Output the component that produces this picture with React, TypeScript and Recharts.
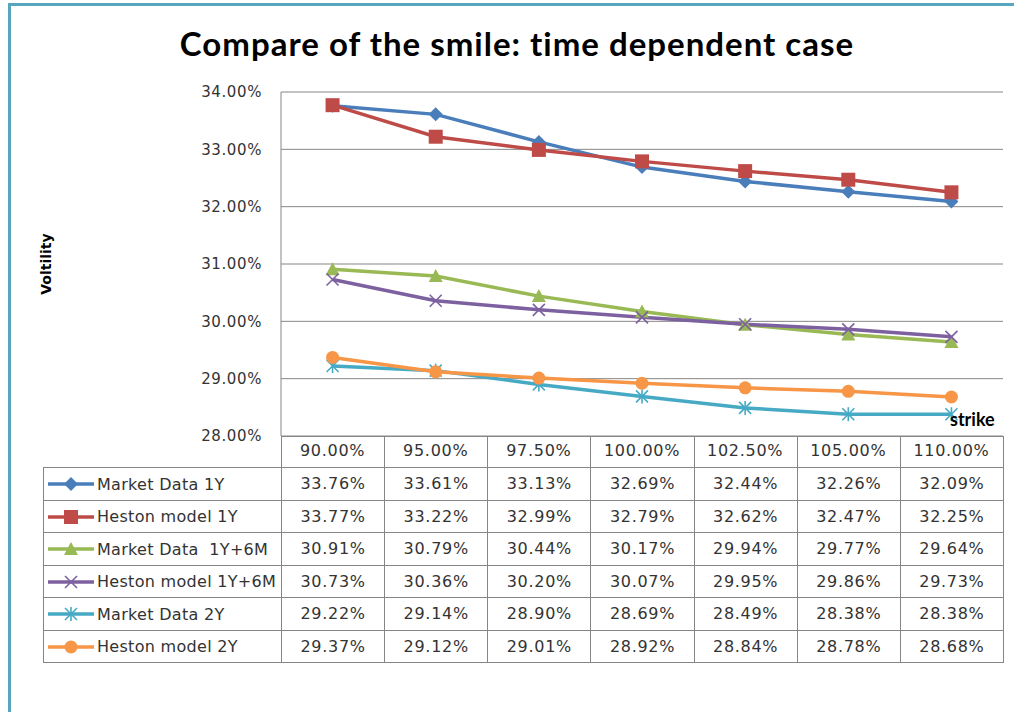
import React from 'react'
import { LineChart, Line, XAxis, YAxis, CartesianGrid } from 'recharts'

// strikes (x categories) and implied vols in %
const strikes = ['90.00%', '95.00%', '97.50%', '100.00%', '102.50%', '105.00%', '110.00%']
const marketData1Y = [33.76, 33.61, 33.13, 32.69, 32.44, 32.26, 32.09]
const hestonModel1Y = [33.77, 33.22, 32.99, 32.79, 32.62, 32.47, 32.25]
const marketData18M = [30.91, 30.79, 30.44, 30.17, 29.94, 29.77, 29.64]
const hestonModel18M = [30.73, 30.36, 30.2, 30.07, 29.95, 29.86, 29.73]
const marketData2Y = [29.22, 29.14, 28.9, 28.69, 28.49, 28.38, 28.38]
const hestonModel2Y = [29.37, 29.12, 29.01, 28.92, 28.84, 28.78, 28.68]
const yTicks = [28, 29, 30, 31, 32, 33, 34]

type Shape = 'diamond' | 'square' | 'triangle' | 'x' | 'star' | 'circle'

const series: { key: string; name: string; values: number[]; color: string; shape: Shape }[] = [
    { key: 'm1', name: 'Market Data 1Y', values: marketData1Y, color: '#4a7ebb', shape: 'diamond' },
    { key: 'h1', name: 'Heston model 1Y', values: hestonModel1Y, color: '#be4b48', shape: 'square' },
    { key: 'm18', name: 'Market Data  1Y+6M', values: marketData18M, color: '#98b954', shape: 'triangle' },
    { key: 'h18', name: 'Heston model 1Y+6M', values: hestonModel18M, color: '#7d60a0', shape: 'x' },
    { key: 'm2', name: 'Market Data 2Y', values: marketData2Y, color: '#46aac5', shape: 'star' },
    { key: 'h2', name: 'Heston model 2Y', values: hestonModel2Y, color: '#f79646', shape: 'circle' },
]

const chartData = strikes.map((s, i) => {
    const row: Record<string, string | number> = { strike: s }
    series.forEach(sr => { row[sr.key] = sr.values[i] })
    return row
})

const pct = (v: number) => `${v.toFixed(2)}%`
const FONT = '"DejaVu Sans", Verdana, sans-serif'
const GRID = '#868686'
const BAND = 722 / strikes.length // width of one category column in px

const Marker = ({ cx, cy, shape, color }: { cx: number; cy: number; shape: Shape; color: string }) => {
    switch (shape) {
        case 'diamond':
            return <polygon points={`${cx},${cy - 7} ${cx + 7},${cy} ${cx},${cy + 7} ${cx - 7},${cy}`} fill={color} />
        case 'square':
            return <rect x={cx - 7} y={cy - 7} width={14} height={14} fill={color} />
        case 'triangle':
            return <polygon points={`${cx},${cy - 7} ${cx + 7},${cy + 6} ${cx - 7},${cy + 6}`} fill={color} />
        case 'x':
            return (
                <g stroke={color} strokeWidth={1.6}>
                    <line x1={cx - 6} y1={cy - 6} x2={cx + 6} y2={cy + 6} />
                    <line x1={cx - 6} y1={cy + 6} x2={cx + 6} y2={cy - 6} />
                </g>
            )
        case 'star':
            return (
                <g stroke={color} strokeWidth={1.6}>
                    <line x1={cx - 6} y1={cy - 6} x2={cx + 6} y2={cy + 6} />
                    <line x1={cx - 6} y1={cy + 6} x2={cx + 6} y2={cy - 6} />
                    <line x1={cx} y1={cy - 7} x2={cx} y2={cy + 7} />
                </g>
            )
        default:
            return <circle cx={cx} cy={cy} r={6.5} fill={color} />
    }
}

const makeDot = (shape: Shape, color: string) => (props: any) => (
    <Marker key={`${shape}-${props.index}`} cx={props.cx} cy={props.cy} shape={shape} color={color} />
)

const LegendKey = ({ shape, color }: { shape: Shape; color: string }) => (
    <svg width={50} height={16} style={{ verticalAlign: 'middle', marginRight: 1 }}>
        <line x1={2} y1={8} x2={48} y2={8} stroke={color} strokeWidth={3.5} />
        <Marker cx={25} cy={8} shape={shape} color={color} />
    </svg>
)

const cellBorder = `1px solid ${GRID}`

export default function App() {
    return (
        <div style={{ position: 'absolute', left: 0, top: 0, width: 1014, height: 712, background: '#fff', overflow: 'hidden', fontFamily: FONT }}>
            {/* frame of the chart object, only left and top edges are visible */}
            <div style={{ position: 'absolute', left: 8, top: 3, width: 1100, height: 800, borderLeft: '3px solid #58a6bd', borderTop: '3px solid #58a6bd' }} />

            <div style={{ position: 'absolute', left: 0, width: 1034, top: 23, textAlign: 'center', fontFamily: 'Lato, "Open Sans", sans-serif', fontWeight: 700, fontSize: 33, letterSpacing: 1, color: '#000' }}>
                Compare of the smile: time dependent case
            </div>

            <div style={{ position: 'absolute', left: 0, top: 0 }}>
                <LineChart width={1014} height={712} data={chartData} margin={{ top: 92, right: 11, left: 41, bottom: 244 }}>
                    <CartesianGrid vertical={false} stroke={GRID} strokeWidth={1} />
                    <XAxis
                        dataKey="strike"
                        height={32}
                        padding={{ left: BAND / 2, right: BAND / 2 }}
                        axisLine={false}
                        tickLine={false}
                        tickSize={0}
                        tickMargin={9}
                        tick={{ fill: '#333', fontSize: 16, fontFamily: FONT, letterSpacing: 0.7 }}
                        interval={0}
                    />
                    <YAxis
                        width={240}
                        domain={[28, 34]}
                        ticks={yTicks}
                        tickFormatter={pct}
                        axisLine={{ stroke: GRID }}
                        tickLine={false}
                        tickSize={0}
                        tickMargin={19}
                        tick={{ fill: '#333', fontSize: 15, fontFamily: FONT, letterSpacing: 0.6 }}
                        label={{ value: 'Voltility', angle: -90, position: 'insideLeft', offset: 5, style: { fontFamily: FONT, fontWeight: 700, fontSize: 14, fill: '#000', textAnchor: 'middle' } }}
                    />
                    {series.map(s => (
                        <Line
                            key={s.key}
                            dataKey={s.key}
                            name={s.name}
                            stroke={s.color}
                            strokeWidth={3.5}
                            dot={makeDot(s.shape, s.color)}
                            activeDot={false}
                            isAnimationActive={false}
                        />
                    ))}
                </LineChart>
            </div>

            <div style={{ position: 'absolute', left: 950, top: 408, fontWeight: 700, fontSize: 18, color: '#000', fontFamily: 'Lato, sans-serif' }}>strike</div>

            {/* data table under the plot */}
            <table style={{ position: 'absolute', left: 43, top: 436, borderCollapse: 'collapse', tableLayout: 'fixed', width: 961, fontSize: 16, color: '#333', letterSpacing: 0.7 }}>
                <colgroup>
                    <col style={{ width: 238 }} />
                    {strikes.map(s => <col key={s} style={{ width: BAND }} />)}
                </colgroup>
                <tbody>
                    <tr style={{ height: 31 }}>
                        <td style={{ borderRight: cellBorder, borderBottom: cellBorder }} />
                        {strikes.map(s => <td key={s} style={{ border: cellBorder }} />)}
                    </tr>
                    {series.map(s => (
                        <tr key={s.key} style={{ height: 32.5 }}>
                            <td style={{ border: cellBorder, padding: '0 0 0 2px', whiteSpace: 'pre', overflow: 'hidden' }}>
                                <LegendKey shape={s.shape} color={s.color} />
                                <span style={{ verticalAlign: 'middle', letterSpacing: 0.3 }}>{s.name}</span>
                            </td>
                            {s.values.map((v, i) => (
                                <td key={i} style={{ border: cellBorder, textAlign: 'center', padding: 0 }}>{pct(v)}</td>
                            ))}
                        </tr>
                    ))}
                </tbody>
            </table>
        </div>
    )
}
